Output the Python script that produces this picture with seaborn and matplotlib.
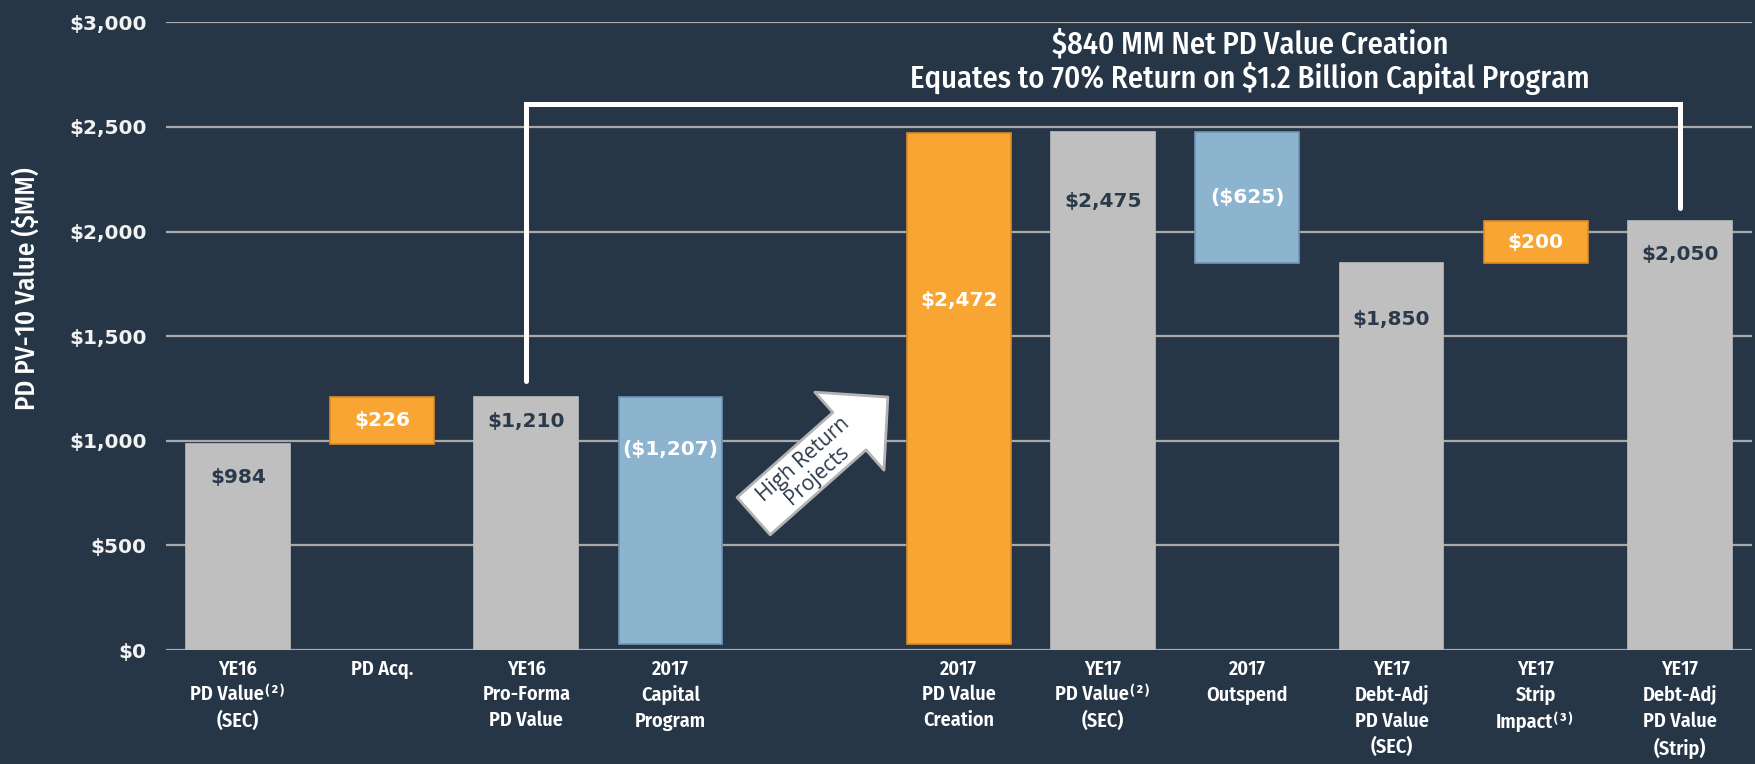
import matplotlib.pyplot as plt
import pandas as pd
import seaborn as sns

# PD PV-10 waterfall, $MM
steps = ["YE16\nPD Value⁽²⁾\n(SEC)", "PD Acq.", "YE16\nPro-Forma\nPD Value",
         "2017\nCapital\nProgram", "2017\nPD Value\nCreation", "YE17\nPD Value⁽²⁾\n(SEC)",
         "2017\nOutspend", "YE17\nDebt-Adj\nPD Value\n(SEC)", "YE17\nStrip\nImpact⁽³⁾",
         "YE17\nDebt-Adj\nPD Value\n(Strip)"]
bar_low = [0, 984, 0, 30, 30, 0, 1850, 0, 1850, 0]
bar_high = [984, 1210, 1210, 1210, 2470, 2475, 2475, 1850, 2050, 2050]
step_kind = ["total", "gain", "total", "spend", "gain", "total", "spend", "total", "gain", "total"]
value_labels = ["$984", "$226", "$1,210", "($1,207)", "$2,472", "$2,475",
                "($625)", "$1,850", "$200", "$2,050"]
y_ticks = [0, 500, 1000, 1500, 2000, 2500, 3000]
headline = "$840 MM Net PD Value Creation\nEquates to 70% Return on $1.2 Billion Capital Program"

# layout: where each value label sits (y, $MM)
label_y = [825, 1097, 1094, 958, 1673, 2145, 2162, 1582, 1950, 1892]

bg = "#263647"
fill = {"total": "#bfbfbf", "gain": "#f9a533", "spend": "#8db4cf"}
edge = {"total": "#bfbfbf", "gain": "#d98b26", "spend": "#6f96b4"}
label_color = {"total": "#2b3a4b", "gain": "white", "spend": "white"}

sns.set_theme(style="white")
narrow = ["Fira Sans Condensed", "Liberation Sans Narrow", "DejaVu Sans"]

df = pd.DataFrame({"step": steps,
                   "height": [h - l for h, l in zip(bar_high, bar_low)],
                   "low": bar_low})
order = steps[:4] + [" "] + steps[4:]  # empty slot where the arrow goes

fig = plt.figure(figsize=(17.56, 7.64), dpi=100, facecolor=bg)
ax = fig.add_axes([0.0945, 0.1492, 0.9032, 0.8215], facecolor=bg)

sns.barplot(data=df, x="step", y="height", order=order, bottom=df["low"].to_numpy(),
            width=0.72, errorbar=None, saturation=1, color="#bfbfbf", ax=ax, zorder=2)

for p, kind, txt, ly in zip(ax.patches, step_kind, value_labels, label_y):
    p.set_facecolor(fill[kind])
    p.set_edgecolor(edge[kind])
    p.set_linewidth(1.2)
    ax.text(p.get_x() + p.get_width() / 2, ly, txt.replace("$", r"\$"),
            ha="center", va="center", fontsize=14.5, fontweight="bold",
            color=label_color[kind], family="DejaVu Sans", zorder=3)

ax.set_ylim(0, 3000)
ax.set_xlim(-0.5, 10.5)
ax.set_yticks(y_ticks)
ax.set_yticklabels([f"\\${v:,}" for v in y_ticks], fontsize=14.5, fontweight="bold",
                   color="#f2f2f2", family="DejaVu Sans")
ax.set_xticks(range(len(order)))
ax.set_xticklabels(order, fontsize=14.5, fontweight=600, color="white",
                   family=narrow, linespacing=1.38)
ax.tick_params(axis="x", length=0, pad=7)
ax.tick_params(axis="y", length=0, pad=14)
ax.set_xlabel("")
ax.set_ylabel("PD PV-10 Value ($MM)", fontsize=19.5, fontweight=500, color="white", family=narrow)
ax.yaxis.set_label_coords(-0.079, 0.576)

ax.grid(axis="y", color="#a9a9a9", linewidth=1.6)
ax.grid(axis="x", visible=False)
ax.set_axisbelow(True)
sns.despine(ax=ax, left=True, bottom=True)

# bracket from pro-forma value to strip value
ax.plot([2, 2, 10, 10], [1286, 2610, 2610, 2113], color="white", lw=3.6,
        solid_joinstyle="miter", zorder=4)
ax.text(7.02, 2808, headline.replace("$", r"\$"), ha="center", va="center",
        fontsize=22, fontweight=500, color="white", family=narrow, linespacing=1.08)

# "High Return Projects" block arrow
ax.annotate("", xy=(4.507, 1209), xytext=(3.576, 640),
            arrowprops=dict(arrowstyle="simple,head_length=3.7,head_width=7.5,tail_width=3.6",
                            mutation_scale=10, fc="white", ec="#b3b3b3", lw=2,
                            shrinkA=0, shrinkB=0), zorder=5)
ax.text(3.97, 875, "High Return\nProjects", rotation=41.6, rotation_mode="anchor",
        ha="center", va="center", fontsize=15, color="#2b3a4b", zorder=6,
        family=["Open Sans", "DejaVu Sans"], linespacing=1.0)

fig.savefig("out.png", dpi=100, facecolor=bg)
